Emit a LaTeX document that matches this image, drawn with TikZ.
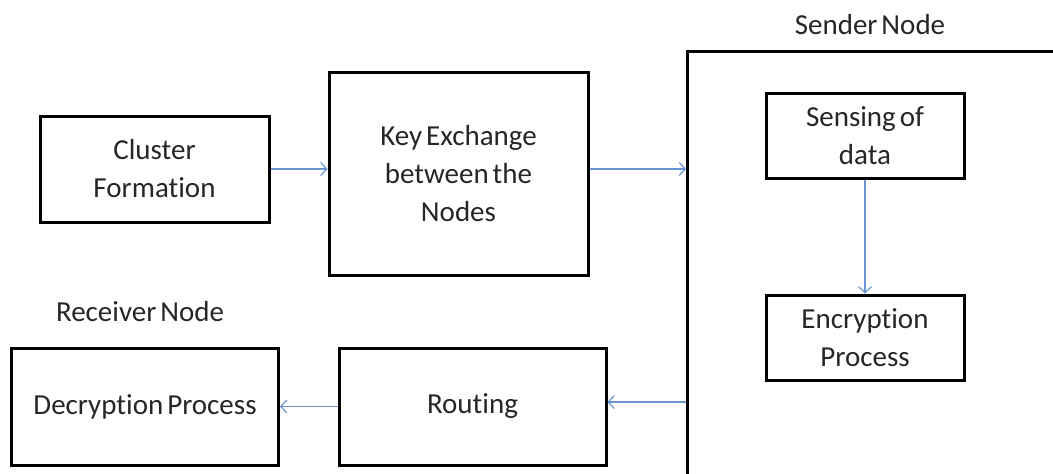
\documentclass[tikz,border=0pt]{standalone}
\usepackage{fontspec}
\setmainfont{Carlito}[Ligatures=NoCommon,WordSpace=0.6]
\usetikzlibrary{arrows.meta}
\definecolor{flowblue}{HTML}{6A95D2}
\definecolor{ink}{HTML}{262626}
\begin{document}
\begin{tikzpicture}[x=1pt,y=-1pt,
  every node/.style={text=ink,font=\fontsize{29}{38}\selectfont},
  box/.style={draw=black,line width=3pt,align=center,inner sep=0pt},
  lbl/.style={inner sep=0pt},
  flow/.style={draw=flowblue,line width=1.2pt,-{Straight Barb[length=6pt,width=13pt,line width=1.2pt]}},
  flowthick/.style={flow,line width=2pt}]
\useasboundingbox (0,0) rectangle (1053,474);
\clip (0,0) rectangle (1053,474);

% sender side enclosure (runs past the right and bottom edges)
\node[box,minimum width=400pt,minimum height=428pt,anchor=north west] (sender) at (686,50) {};
\node[lbl] (senderlbl) at (870,25) {Sender Node};
\node[lbl] (receiverlbl) at (140,312) {Receiver Node};

% process boxes
\node[box,minimum width=229pt,minimum height=106pt] (cluster) at (154.5,169) {Cluster\\Formation};
\node[box,minimum width=259pt,minimum height=203pt] (key) at (458.5,173.5) {Key Exchange\\between the\\Nodes};
\node[box,minimum width=198pt,minimum height=85pt] (sensing) at (865,135.5) {Sensing of\\data};
\node[box,minimum width=198pt,minimum height=85pt] (encrypt) at (865,337.5) {Encryption\\Process};
\node[box,minimum width=267pt,minimum height=117pt] (decrypt) at (145,406.5) {Decryption Process};
\node[box,minimum width=267pt,minimum height=117pt] (routing) at (472.5,406.5) {Routing};

% connectors
\draw[flowthick] (cluster.east) -- (cluster.east -| key.west);
\draw[flowthick] (key.east |- cluster.east) -- (cluster.east -| sender.west);
\draw[flow] (sensing.south) -- (encrypt.north);
\draw[flowthick] ([yshift=4.5pt]routing.east -| sender.west) -- ([yshift=4.5pt]routing.east);
\draw[flow] (routing.west) -- (decrypt.east);
\end{tikzpicture}
\end{document}
